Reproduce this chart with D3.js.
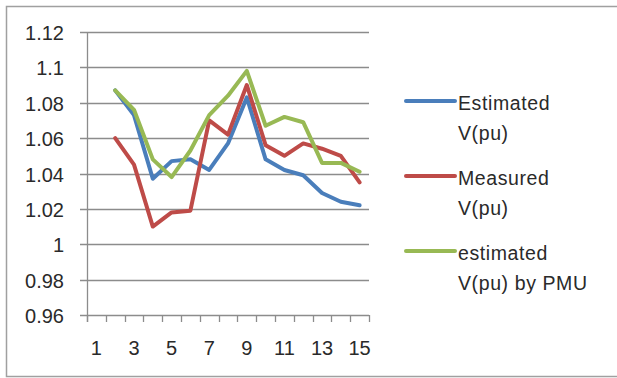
<!DOCTYPE html>
<html>
<head>
<meta charset="utf-8">
<script src="https://cdn.jsdelivr.net/npm/d3@7"></script>
<style>
  html, body { margin: 0; padding: 0; background: #fff; }
  svg { display: block; }
  text { font-family: "Liberation Sans", Arial, sans-serif; fill: #2a2a2a; }
</style>
</head>
<body>
<svg id="chart" width="617" height="378"></svg>
<script>
const categories = [1,2,3,4,5,6,7,8,9,10,11,12,13,14,15];
const xTickLabels = [1,3,5,7,9,11,13,15];
const yTicks = [0.96,0.98,1,1.02,1.04,1.06,1.08,1.1,1.12];
const seriesNames = ["Estimated V(pu)", "Measured V(pu)", "estimated V(pu) by PMU"];
const legendLines = [["Estimated","V(pu)"],["Measured","V(pu)"],["estimated","V(pu) by PMU"]];
const seriesColors = ["#4a7ebb", "#be4b48", "#98b954"];
const estimated = [null,1.087,1.073,1.037,1.047,1.048,1.042,1.057,1.083,1.048,1.042,1.039,1.029,1.024,1.022];
const measured  = [null,1.060,1.045,1.010,1.018,1.019,1.070,1.062,1.090,1.056,1.050,1.057,1.054,1.050,1.035];
const pmu       = [null,1.087,1.076,1.048,1.038,1.053,1.073,1.084,1.098,1.067,1.072,1.069,1.046,1.046,1.041];
const seriesValues = [estimated, measured, pmu];

const svg = d3.select("#chart");
const pLeft = 87, pRight = 369, pTop = 32, pBottom = 315;

// outer border
svg.append("rect").attr("x", 6.5).attr("y", 6.5).attr("width", 640).attr("height", 370)
  .attr("fill", "none").attr("stroke", "#a0a0a0").attr("stroke-width", 1.5);

const x = d3.scaleBand().domain(categories).range([pLeft, pRight]).padding(0);
const y = d3.scaleLinear().domain([0.96, 1.12]).range([pBottom, pTop]);

// gridlines + y ticks
const gy = svg.append("g");
yTicks.forEach(v => {
  const yy = Math.round(y(v)) + 0.5;
  gy.append("line").attr("x1", pLeft - 7).attr("x2", pRight).attr("y1", yy).attr("y2", yy)
    .attr("stroke", "#8c8c8c").attr("stroke-width", 1.3);
  gy.append("text").attr("x", 64).attr("y", yy).attr("dy", "0.35em")
    .attr("text-anchor", "end").attr("font-size", 20).text(String(+v.toFixed(2)));
});

// y axis line
svg.append("line").attr("x1", pLeft + 0.5).attr("x2", pLeft + 0.5).attr("y1", pTop).attr("y2", pBottom + 7)
  .attr("stroke", "#8c8c8c").attr("stroke-width", 1.3);

// x axis tick marks at band boundaries
const bounds = categories.map(c => x(c)).concat([pRight]);
bounds.forEach(b => {
  const xx = Math.round(b) + 0.5;
  svg.append("line").attr("x1", xx).attr("x2", xx).attr("y1", pBottom).attr("y2", pBottom + 7)
    .attr("stroke", "#8c8c8c").attr("stroke-width", 1.3);
});
xTickLabels.forEach(c => {
  svg.append("text").attr("x", x(c) + x.bandwidth() / 2).attr("y", 355)
    .attr("text-anchor", "middle").attr("font-size", 20).text(c);
});

// lines
const line = d3.line()
  .defined(d => d.v != null)
  .x(d => x(d.c) + x.bandwidth() / 2)
  .y(d => y(d.v));
seriesValues.forEach((vals, i) => {
  const data = categories.map((c, j) => ({c: c, v: vals[j]}));
  svg.append("path").datum(data).attr("d", line)
    .attr("fill", "none").attr("stroke", seriesColors[i]).attr("stroke-width", 4)
    .attr("stroke-linejoin", "round").attr("stroke-linecap", "round");
});

// legend
const legendY = [101, 176, 251];
legendLines.forEach((lines, i) => {
  const g = svg.append("g").attr("class", "legend").attr("aria-label", seriesNames[i]);
  g.append("line").attr("x1", 406).attr("x2", 455).attr("y1", legendY[i]).attr("y2", legendY[i])
    .attr("stroke", seriesColors[i]).attr("stroke-width", 4).attr("stroke-linecap", "round");
  lines.forEach((t, k) => {
    g.append("text").attr("x", 458).attr("y", legendY[i] + 9 + k * 30)
      .attr("font-size", 19.5).attr("letter-spacing", 0.6).text(t);
  });
});
</script>
</body>
</html>
